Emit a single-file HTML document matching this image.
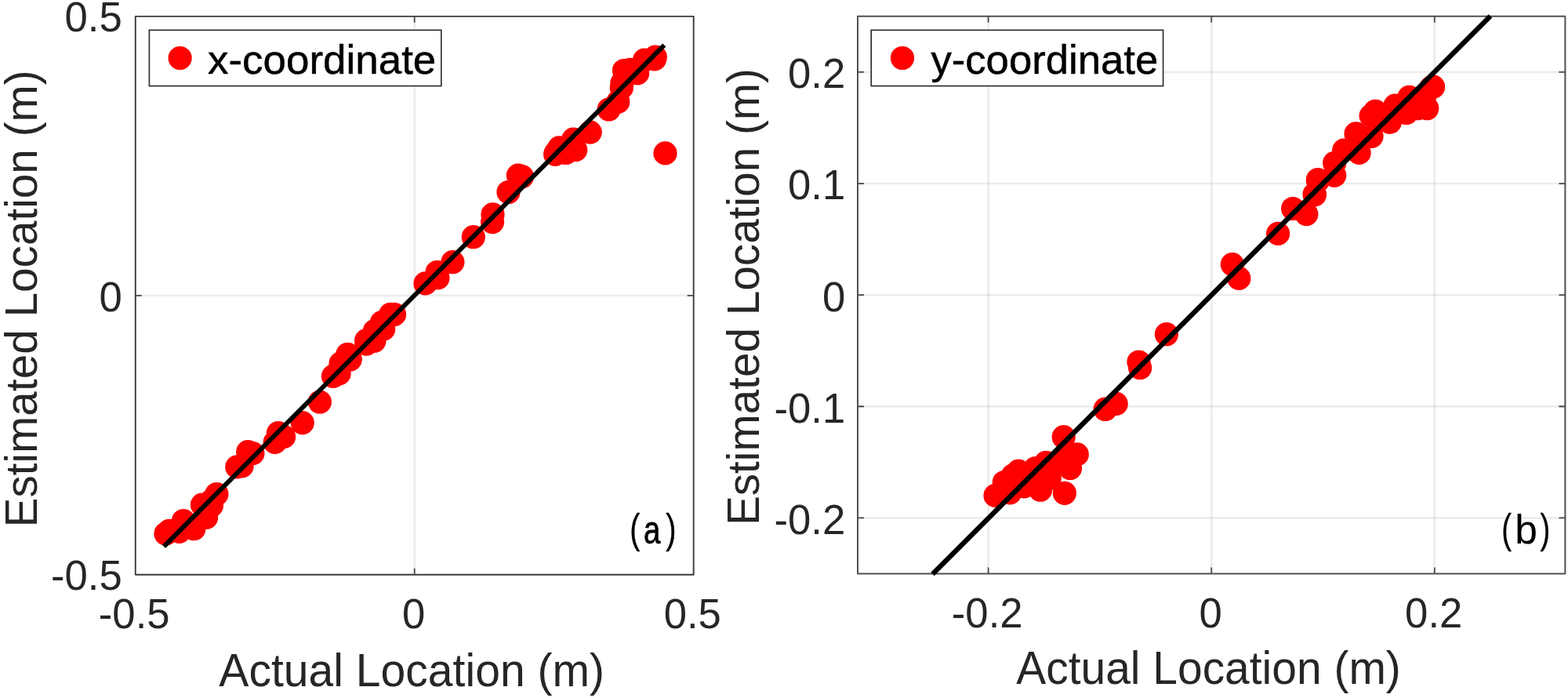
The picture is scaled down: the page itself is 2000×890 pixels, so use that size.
<!DOCTYPE html>
<html lang="en"><head><meta charset="utf-8"><title>Estimated vs. actual location</title>
<style>
html,body{margin:0;padding:0;background:#fff;}
body{width:2000px;height:890px;overflow:hidden;}
svg{display:block;}
text{font-family:"Liberation Sans", sans-serif;fill:#262626;}
.tick{font-size:54.3px;}
.lab{font-size:58.3px;}
.leg{font-size:52px;fill:#000;stroke:#000;stroke-width:0.5px;}
.ann{font-size:52px;fill:#000;stroke:#000;stroke-width:0.35px;}
.grid{stroke:#262626;stroke-opacity:0.085;stroke-width:2.6;fill:none;}
.frame{stroke:#3a3a3a;stroke-width:1.9;fill:none;stroke-linejoin:round;}
.frameb{stroke:#505050;stroke-width:2;fill:none;stroke-linejoin:round;}
.tk{stroke:#4a4a4a;stroke-width:1.8;fill:none;}
.fit{stroke:#000;stroke-width:5.9;fill:none;}
.fitb{stroke:#000;stroke-width:6.4;fill:none;}
.pt{fill:#ff0000;}
.lbox{fill:#fff;stroke:#262626;stroke-width:1.6;}
</style></head><body>
<svg width="2000" height="890" viewBox="0 0 2000 890">
<rect x="0" y="0" width="2000" height="890" fill="#fff"/>
<g id="plot-a">
<line class="grid" x1="528.73" y1="20.85" x2="528.73" y2="732.7"/>
<line class="grid" x1="172.75" y1="376.78" x2="884.7" y2="376.78"/>
<g>
<circle class="pt" cx="211.5" cy="680.5" r="15.1"/>
<circle class="pt" cx="216.0" cy="676.9" r="15.1"/>
<circle class="pt" cx="234.0" cy="664.0" r="15.1"/>
<circle class="pt" cx="228.6" cy="677.8" r="15.1"/>
<circle class="pt" cx="247.4" cy="674.2" r="15.1"/>
<circle class="pt" cx="263.1" cy="659.8" r="15.1"/>
<circle class="pt" cx="257.9" cy="643.6" r="15.1"/>
<circle class="pt" cx="276.4" cy="630.0" r="15.1"/>
<circle class="pt" cx="269.9" cy="644.5" r="15.1"/>
<circle class="pt" cx="302.3" cy="595.4" r="15.1"/>
<circle class="pt" cx="308.6" cy="594.2" r="15.1"/>
<circle class="pt" cx="316.2" cy="576.2" r="15.1"/>
<circle class="pt" cx="322.4" cy="578.0" r="15.1"/>
<circle class="pt" cx="270.8" cy="637.5" r="15.1"/>
<circle class="pt" cx="354.9" cy="552.1" r="15.1"/>
<circle class="pt" cx="350.7" cy="563.9" r="15.1"/>
<circle class="pt" cx="362.1" cy="556.9" r="15.1"/>
<circle class="pt" cx="385.8" cy="539.1" r="15.1"/>
<circle class="pt" cx="407.9" cy="512.5" r="15.1"/>
<circle class="pt" cx="425.0" cy="479.7" r="15.1"/>
<circle class="pt" cx="434.5" cy="463.4" r="15.1"/>
<circle class="pt" cx="432.6" cy="476.3" r="15.1"/>
<circle class="pt" cx="446.6" cy="458.0" r="15.1"/>
<circle class="pt" cx="467.3" cy="438.6" r="15.1"/>
<circle class="pt" cx="443.4" cy="451.8" r="15.1"/>
<circle class="pt" cx="446.4" cy="458.5" r="15.1"/>
<circle class="pt" cx="434.9" cy="463.9" r="15.1"/>
<circle class="pt" cx="498.2" cy="400.8" r="15.1"/>
<circle class="pt" cx="486.9" cy="411.2" r="15.1"/>
<circle class="pt" cx="489.2" cy="419.6" r="15.1"/>
<circle class="pt" cx="477.9" cy="422.0" r="15.1"/>
<circle class="pt" cx="467.1" cy="434.2" r="15.1"/>
<circle class="pt" cx="477.4" cy="434.7" r="15.1"/>
<circle class="pt" cx="503.1" cy="400.9" r="15.1"/>
<circle class="pt" cx="542.5" cy="361.4" r="15.1"/>
<circle class="pt" cx="557.6" cy="347.0" r="15.1"/>
<circle class="pt" cx="558.5" cy="354.2" r="15.1"/>
<circle class="pt" cx="577.4" cy="334.2" r="15.1"/>
<circle class="pt" cx="603.8" cy="302.2" r="15.1"/>
<circle class="pt" cx="628.5" cy="273.4" r="15.1"/>
<circle class="pt" cx="628.1" cy="283.1" r="15.1"/>
<circle class="pt" cx="648.5" cy="245.0" r="15.1"/>
<circle class="pt" cx="660.9" cy="223.6" r="15.1"/>
<circle class="pt" cx="665.9" cy="225.2" r="15.1"/>
<circle class="pt" cx="708.2" cy="196.8" r="15.1"/>
<circle class="pt" cx="721.7" cy="195.0" r="15.1"/>
<circle class="pt" cx="709.0" cy="194.7" r="15.1"/>
<circle class="pt" cx="713.3" cy="188.4" r="15.1"/>
<circle class="pt" cx="731.3" cy="177.6" r="15.1"/>
<circle class="pt" cx="734.3" cy="191.1" r="15.1"/>
<circle class="pt" cx="752.7" cy="168.6" r="15.1"/>
<circle class="pt" cx="776.6" cy="139.5" r="15.1"/>
<circle class="pt" cx="788.3" cy="129.9" r="15.1"/>
<circle class="pt" cx="792.8" cy="111.9" r="15.1"/>
<circle class="pt" cx="793.5" cy="105.6" r="15.1"/>
<circle class="pt" cx="796.0" cy="90.0" r="15.1"/>
<circle class="pt" cx="813.1" cy="93.4" r="15.1"/>
<circle class="pt" cx="822.1" cy="76.5" r="15.1"/>
<circle class="pt" cx="835.8" cy="72.6" r="15.1"/>
<circle class="pt" cx="835.0" cy="75.4" r="15.1"/>
<circle class="pt" cx="804.1" cy="88.9" r="15.1"/>
<circle class="pt" cx="848.5" cy="195.4" r="15.1"/>
</g>
<rect class="frame" x="172.75" y="20.85" width="711.95" height="711.85"/>
<path class="tk" d="M528.73 732.7v-8 M528.73 20.85v8 M172.75 376.78h8 M884.7 376.78h-8"/>
<line class="fit" x1="209.0" y1="696.8" x2="847.3" y2="57.5"/>
<text class="tick" transform="translate(171.2 801.2) scale(0.97 1)" text-anchor="middle">-0.5</text>
<text class="tick" transform="translate(527.6 801.2) scale(0.97 1)" text-anchor="middle">0</text>
<text class="tick" transform="translate(883.3 801.2) scale(0.97 1)" text-anchor="middle">0.5</text>
<text class="tick" transform="translate(155.8 40.45) scale(0.97 1)" text-anchor="end">0.5</text>
<text class="tick" transform="translate(155.8 397.00) scale(0.97 1)" text-anchor="end">0</text>
<text class="tick" transform="translate(155.8 752.40) scale(0.97 1)" text-anchor="end">-0.5</text>
<text class="lab" transform="translate(525.2 874.8) scale(0.979 1)" text-anchor="middle">Actual Location (m)</text>
<text class="lab" transform="translate(46.6 380.9) rotate(-90) scale(0.973 1)" text-anchor="middle">Estimated Location (m)</text>
<rect class="lbox" x="190.4" y="38.4" width="372.4" height="71.2"/>
<circle class="pt" cx="229.6" cy="74" r="15.1"/>
<text class="leg" transform="translate(265 94) scale(1.018 1)">x-coordinate</text>
<text class="ann"><tspan x="803.2" y="691.7" textLength="13.06" lengthAdjust="spacingAndGlyphs">(</tspan><tspan x="821.1" y="693.2" font-size="50" stroke-width="0.8" textLength="21.33" lengthAdjust="spacingAndGlyphs">a</tspan><tspan x="849.2" y="691.7" textLength="13.3" lengthAdjust="spacingAndGlyphs">)</tspan></text>
</g>
<g id="plot-b">
<line class="grid" x1="1260.60" y1="20.75" x2="1260.60" y2="731.45"/>
<line class="grid" x1="1545.20" y1="20.75" x2="1545.20" y2="731.45"/>
<line class="grid" x1="1829.80" y1="20.75" x2="1829.80" y2="731.45"/>
<line class="grid" x1="1094" y1="660.35" x2="1996.4" y2="660.35"/>
<line class="grid" x1="1094" y1="518.25" x2="1996.4" y2="518.25"/>
<line class="grid" x1="1094" y1="376.15" x2="1996.4" y2="376.15"/>
<line class="grid" x1="1094" y1="234.05" x2="1996.4" y2="234.05"/>
<line class="grid" x1="1094" y1="91.95" x2="1996.4" y2="91.95"/>
<g>
<circle class="pt" cx="1269.5" cy="631.9" r="15.1"/>
<circle class="pt" cx="1280.8" cy="615.0" r="15.1"/>
<circle class="pt" cx="1291.9" cy="606.3" r="15.1"/>
<circle class="pt" cx="1299.1" cy="600.6" r="15.1"/>
<circle class="pt" cx="1320.7" cy="597.0" r="15.1"/>
<circle class="pt" cx="1334.2" cy="589.8" r="15.1"/>
<circle class="pt" cx="1288.3" cy="628.3" r="15.1"/>
<circle class="pt" cx="1306.3" cy="620.4" r="15.1"/>
<circle class="pt" cx="1327.0" cy="624.7" r="15.1"/>
<circle class="pt" cx="1357.9" cy="628.8" r="15.1"/>
<circle class="pt" cx="1365.0" cy="597.0" r="15.1"/>
<circle class="pt" cx="1373.8" cy="579.4" r="15.1"/>
<circle class="pt" cx="1356.7" cy="557.2" r="15.1"/>
<circle class="pt" cx="1338.7" cy="609.9" r="15.1"/>
<circle class="pt" cx="1345.9" cy="591.9" r="15.1"/>
<circle class="pt" cx="1409.7" cy="521.8" r="15.1"/>
<circle class="pt" cx="1361.2" cy="576.7" r="15.1"/>
<circle class="pt" cx="1316.0" cy="607.9" r="15.1"/>
<circle class="pt" cx="1487.9" cy="426.2" r="15.1"/>
<circle class="pt" cx="1452.5" cy="461.5" r="15.1"/>
<circle class="pt" cx="1454.1" cy="469.0" r="15.1"/>
<circle class="pt" cx="1410.0" cy="521.7" r="15.1"/>
<circle class="pt" cx="1423.7" cy="514.9" r="15.1"/>
<circle class="pt" cx="1571.8" cy="337.1" r="15.1"/>
<circle class="pt" cx="1580.3" cy="354.9" r="15.1"/>
<circle class="pt" cx="1630.1" cy="297.9" r="15.1"/>
<circle class="pt" cx="1649.1" cy="266.0" r="15.1"/>
<circle class="pt" cx="1666.4" cy="273.1" r="15.1"/>
<circle class="pt" cx="1676.5" cy="247.9" r="15.1"/>
<circle class="pt" cx="1681.0" cy="229.0" r="15.1"/>
<circle class="pt" cx="1702.2" cy="223.6" r="15.1"/>
<circle class="pt" cx="1680.9" cy="230.6" r="15.1"/>
<circle class="pt" cx="1677.0" cy="248.3" r="15.1"/>
<circle class="pt" cx="1702.2" cy="207.8" r="15.1"/>
<circle class="pt" cx="1701.8" cy="223.5" r="15.1"/>
<circle class="pt" cx="1714.2" cy="191.6" r="15.1"/>
<circle class="pt" cx="1733.6" cy="194.9" r="15.1"/>
<circle class="pt" cx="1729.5" cy="170.4" r="15.1"/>
<circle class="pt" cx="1749.5" cy="173.8" r="15.1"/>
<circle class="pt" cx="1748.6" cy="147.6" r="15.1"/>
<circle class="pt" cx="1754.3" cy="141.8" r="15.1"/>
<circle class="pt" cx="1772.8" cy="155.8" r="15.1"/>
<circle class="pt" cx="1779.5" cy="134.6" r="15.1"/>
<circle class="pt" cx="1797.5" cy="123.8" r="15.1"/>
<circle class="pt" cx="1828.1" cy="110.7" r="15.1"/>
<circle class="pt" cx="1820.3" cy="138.2" r="15.1"/>
<circle class="pt" cx="1808.3" cy="138.2" r="15.1"/>
<circle class="pt" cx="1793.9" cy="144.0" r="15.1"/>
<circle class="pt" cx="1817.3" cy="122.4" r="15.1"/>
<circle class="pt" cx="1825.5" cy="111.6" r="15.1"/>
</g>
<rect class="frameb" x="1094" y="20.75" width="902.40" height="710.70"/>
<path class="tk" d="M1260.60 731.45v-8 M1260.60 20.75v8 M1545.20 731.45v-8 M1545.20 20.75v8 M1829.80 731.45v-8 M1829.80 20.75v8 M1094 660.35h8 M1996.4 660.35h-8 M1094 518.25h8 M1996.4 518.25h-8 M1094 376.15h8 M1996.4 376.15h-8 M1094 234.05h8 M1996.4 234.05h-8 M1094 91.95h8 M1996.4 91.95h-8"/>
<line class="fitb" x1="1189.5" y1="732.1" x2="1901.0" y2="20.4"/>
<text class="tick" transform="translate(1259.2 799.6) scale(0.97 1)" text-anchor="middle">-0.2</text>
<text class="tick" transform="translate(1544.2 799.6) scale(0.97 1)" text-anchor="middle">0</text>
<text class="tick" transform="translate(1828.7 799.6) scale(0.97 1)" text-anchor="middle">0.2</text>
<text class="tick" transform="translate(1078.2 111.70) scale(0.97 1)" text-anchor="end">0.2</text>
<text class="tick" transform="translate(1078.2 254.40) scale(0.97 1)" text-anchor="end">0.1</text>
<text class="tick" transform="translate(1078.2 396.90) scale(0.97 1)" text-anchor="end">0</text>
<text class="tick" transform="translate(1078.2 539.10) scale(0.97 1)" text-anchor="end">-0.1</text>
<text class="tick" transform="translate(1078.2 681.10) scale(0.97 1)" text-anchor="end">-0.2</text>
<text class="lab" transform="translate(1541.5 872.4) scale(0.977 1)" text-anchor="middle">Actual Location (m)</text>
<text class="lab" transform="translate(967.9 378.6) rotate(-90) scale(0.973 1)" text-anchor="middle">Estimated Location (m)</text>
<rect class="lbox" x="1111.2" y="38.4" width="372.4" height="71.2"/>
<circle class="pt" cx="1151" cy="74" r="15.1"/>
<text class="leg" transform="translate(1187.4 94) scale(1.013 1)">y-coordinate</text>
<text class="ann"><tspan x="1915.2" y="691.7" textLength="12.75" lengthAdjust="spacingAndGlyphs">(</tspan><tspan x="1932.3" y="693" font-size="51.5" stroke-width="0.1">b</tspan><tspan x="1964.6" y="691.7" textLength="12.7" lengthAdjust="spacingAndGlyphs">)</tspan></text>
</g>
</svg>
</body></html>
